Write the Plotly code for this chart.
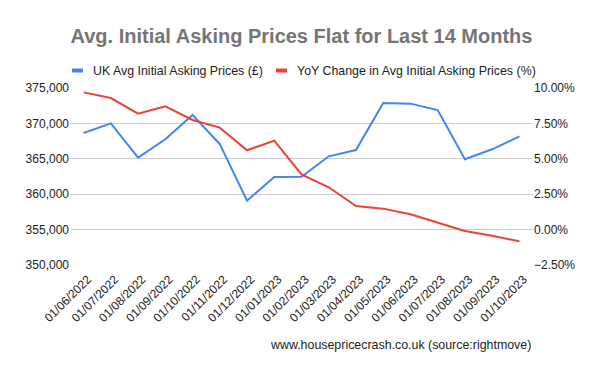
import plotly.graph_objects as go

dates = ["01/06/2022", "01/07/2022", "01/08/2022", "01/09/2022", "01/10/2022",
         "01/11/2022", "01/12/2022", "01/01/2023", "01/02/2023", "01/03/2023",
         "01/04/2023", "01/05/2023", "01/06/2023", "01/07/2023", "01/08/2023",
         "01/09/2023", "01/10/2023"]
asking_price = [368640, 370000, 365160, 367750, 371190, 367090, 359090, 362430,
                362450, 365350, 366240, 372880, 372790, 371890, 364930, 366340,
                368170]
yoy_change_pct = [9.69, 9.29, 8.19, 8.71, 7.74, 7.20, 5.60, 6.28, 3.90, 2.99,
                  1.67, 1.48, 1.08, 0.49, -0.10, -0.43, -0.83]
series_names = ["UK Avg Initial Asking Prices (£)",
                "YoY Change in Avg Initial Asking Prices (%)"]

BLUE = "#4285F4"
RED = "#EA4335"
FONT = "Arial, Liberation Sans, sans-serif"

W, H = 600, 371
L, R, T, B = 70, 67, 88, 106
PW, PH = W - L - R, H - T - B


def px_x(px):
    return (px - L) / PW


def px_y(py):
    return (H - B - py) / PH


fig = go.Figure()
fig.add_trace(go.Scatter(
    x=dates, y=asking_price, mode="lines", name=series_names[0],
    line=dict(color=BLUE, width=2), yaxis="y", showlegend=False))
fig.add_trace(go.Scatter(
    x=dates, y=[v / 100 for v in yoy_change_pct], mode="lines",
    name=series_names[1],
    line=dict(color=RED, width=2), yaxis="y2", showlegend=False))

# custom legend (swatch + label) placed above the plot
legend_items = [(series_names[0], BLUE, 72), (series_names[1], RED, 276)]
shapes = []
annotations = []
for name, color, sx in legend_items:
    shapes.append(dict(type="rect", xref="paper", yref="paper",
                       x0=px_x(sx), x1=px_x(sx + 11), y0=px_y(72.5), y1=px_y(68.5),
                       fillcolor=color, line=dict(width=0)))
    annotations.append(dict(text=name, xref="paper", yref="paper",
                            x=px_x(sx + 19), xanchor="left", y=px_y(71), yanchor="middle",
                            showarrow=False,
                            font=dict(family=FONT, size=12.4, color="#222222")))

annotations.append(dict(text="www.housepricecrash.co.uk (source:rightmove)",
                        x=px_x(533), xref="paper", xanchor="right",
                        y=px_y(345), yref="paper", yanchor="middle",
                        showarrow=False, font=dict(family=FONT, size=12.4, color="#222222")))

fig.update_layout(
    width=W, height=H,
    margin=dict(l=L, r=R, t=T, b=B),
    paper_bgcolor="white", plot_bgcolor="white",
    font=dict(family=FONT, size=12, color="#444444"),
    title=dict(text="<b>Avg. Initial Asking Prices Flat for Last 14 Months</b>",
               x=px_x(301.5), xanchor="center", xref="paper", y=1 - 36 / H, yanchor="middle",
               yref="container",
               font=dict(family=FONT, size=20, color="#757575")),
    showlegend=False,
    xaxis=dict(type="category", range=[-0.5, len(dates) - 0.5], tickangle=-45,
               showgrid=False, showline=False, ticklabelstandoff=4, ticklabelshift=4,
               ticks="", zeroline=False, automargin=False,
               tickfont=dict(size=12, color="#222222")),
    yaxis=dict(range=[350000, 375000], dtick=5000, tickformat=",",
               showgrid=True, gridcolor="#cccccc", gridwidth=1, zeroline=False,
               showline=False, ticks="", automargin=False,
               tickfont=dict(size=12, color="#222222")),
    yaxis2=dict(range=[-0.025, 0.10], dtick=0.025, tickformat=".2%",
                overlaying="y", side="right", showgrid=False, zeroline=False,
                showline=False, ticks="", automargin=False,
                tickfont=dict(size=12, color="#222222")),
    shapes=shapes,
    annotations=annotations,
)

fig.write_html("out.html", config={"displayModeBar": False},
               post_script="document.body.style.margin='0';document.body.style.padding='0';")
